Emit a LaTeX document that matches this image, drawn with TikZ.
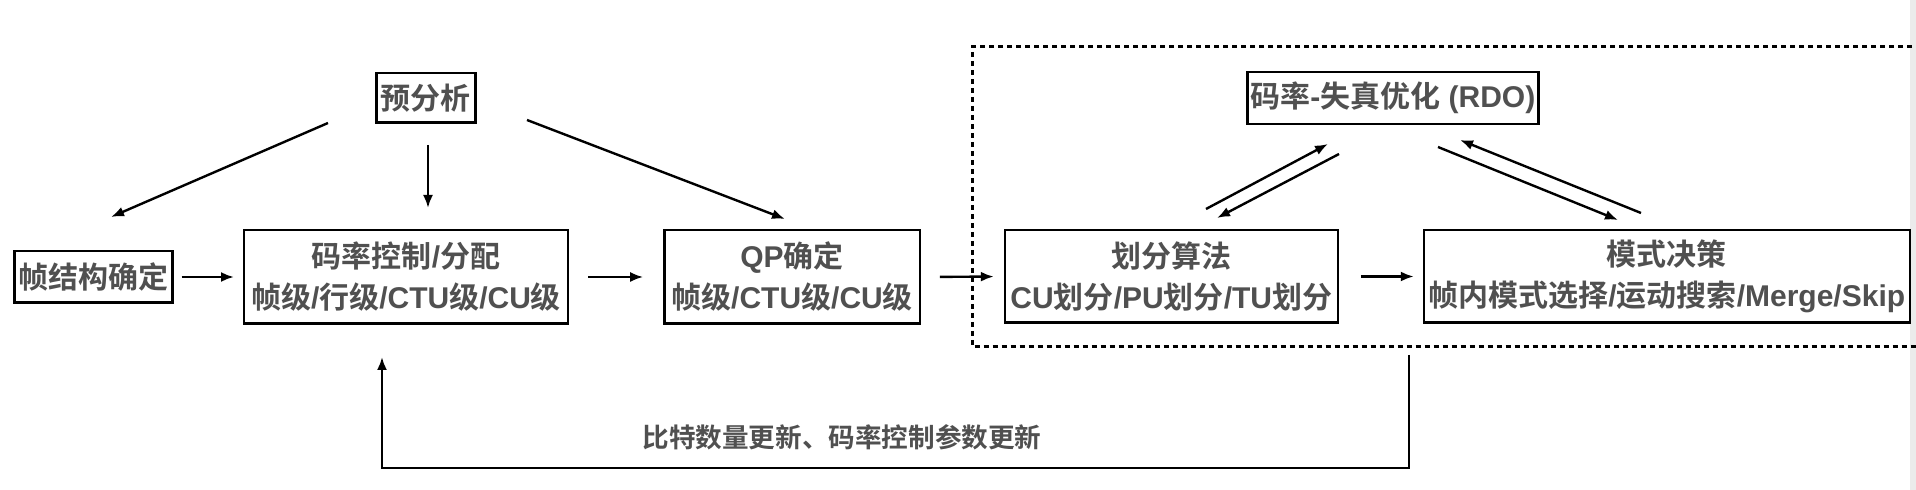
\documentclass[tikz,border=0pt]{standalone}
\usepackage{fontspec}
\setmainfont{Liberation Sans}
\newfontfamily\cjk{Noto Sans CJK SC}[BoldFont={Noto Sans CJK SC Bold}]
\usetikzlibrary{arrows.meta}
\definecolor{txt}{HTML}{505050}
\newcommand\zh[1]{{\cjk #1}}
\tikzset{
  box/.style={draw=black, line width=1.3pt, inner sep=0pt, outer sep=0pt,
    align=center, text=txt, font=\fontsize{15pt}{20.5pt}\selectfont\bfseries},
  arr/.style={line width=1.2pt, -{Latex[length=6.5pt,width=5pt]}},
  dashframe/.style={line width=1.2pt, dash pattern=on 2.5pt off 2pt},
  lbl/.style={text=txt, inner sep=0pt, font=\fontsize{13.3pt}{16pt}\selectfont\bfseries}
}
\begin{document}
\begin{tikzpicture}[x=0.5pt,y=-0.5pt]
\useasboundingbox (0,0) rectangle (1916,490);
\clip (0,0) rectangle (1916,490);
\fill[white] (0,0) rectangle (1916,490);
\fill[black!8] (1910,0) rectangle (1916,490);

% boxes
\node[box, minimum width=49.5pt, minimum height=24.8pt] (ys) at (425.75,98) {\zh{预分析}};
\node[box, minimum width=78.8pt, minimum height=25.8pt] (zj) at (93.4,277) {\zh{帧结构确定}};
\node[box, minimum width=162pt, minimum height=46.8pt] (rc) at (406,277)
  {\zh{码率控制}/\zh{分配}\\\zh{帧级}/\zh{行级}/CTU\zh{级}/CU\zh{级}};
\node[box, minimum width=127.8pt, minimum height=46.8pt] (qp) at (792,277)
  {QP\zh{确定}\\\zh{帧级}/CTU\zh{级}/CU\zh{级}};
\node[box, minimum width=166.5pt, minimum height=46.3pt] (hf) at (1171.3,276.5)
  {\zh{划分算法}\\CU\zh{划分}/PU\zh{划分}/TU\zh{划分}};
\node[box, minimum width=243pt, minimum height=46.3pt] (ms) at (1666.8,276.5)
  {\zh{模式决策}\\\zh{帧内模式选择}/\zh{运动搜索}/Merge/Skip};
\node[box, minimum width=145.6pt, minimum height=26pt] (rdo) at (1392.8,97.9)
  {\zh{码率}-\zh{失真优化} (RDO)};

% dashed frame
\draw[dashframe] (1930,46.7) -- (972.3,46.7) -- (972.3,346.7) -- (1930,346.7);

% connector end points
\coordinate (a1) at (328,123);  \coordinate (b1) at (111,217);
\coordinate (a2) at (428,145);  \coordinate (b2) at (428,208);
\coordinate (a3) at (527,120);  \coordinate (b3) at (785,219);
\coordinate (u1) at (1206,209); \coordinate (v1) at (1328,144);
\coordinate (u2) at (1339,154); \coordinate (v2) at (1217,218);
\coordinate (u3) at (1438,147); \coordinate (v3) at (1618,220);
\coordinate (u4) at (1641,213); \coordinate (v4) at (1460,140);
\coordinate (f0) at (1409,355); \coordinate (f1) at (1409,468);
\coordinate (f2) at (382,468);  \coordinate (f3) at (382,357);

\draw[arr] (a1) -- (b1);
\draw[arr] (a2) -- (b2);
\draw[arr] (a3) -- (b3);
\draw[arr, shorten <=9.5pt*0.5, shorten >=10pt*0.5] (zj.east) -- (rc.west);
\draw[arr, shorten <=20pt*0.5, shorten >=21pt*0.5] (rc.east) -- (qp.west);
\draw[arr, shorten <=20pt*0.5, shorten >=11pt*0.5] (qp.east) -- (hf.west);
\draw[arr, shorten <=23pt*0.5, shorten >=10pt*0.5] (hf.east) -- (ms.west);
\draw[arr] (u1) -- (v1);
\draw[arr] (u2) -- (v2);
\draw[arr] (u3) -- (v3);
\draw[arr] (u4) -- (v4);
\draw[arr] (f0) -- (f1) -- (f2) -- (f3);

\node[lbl] (fb) at (842,437) {\zh{比特数量更新、码率控制参数更新}};
\end{tikzpicture}
\end{document}
